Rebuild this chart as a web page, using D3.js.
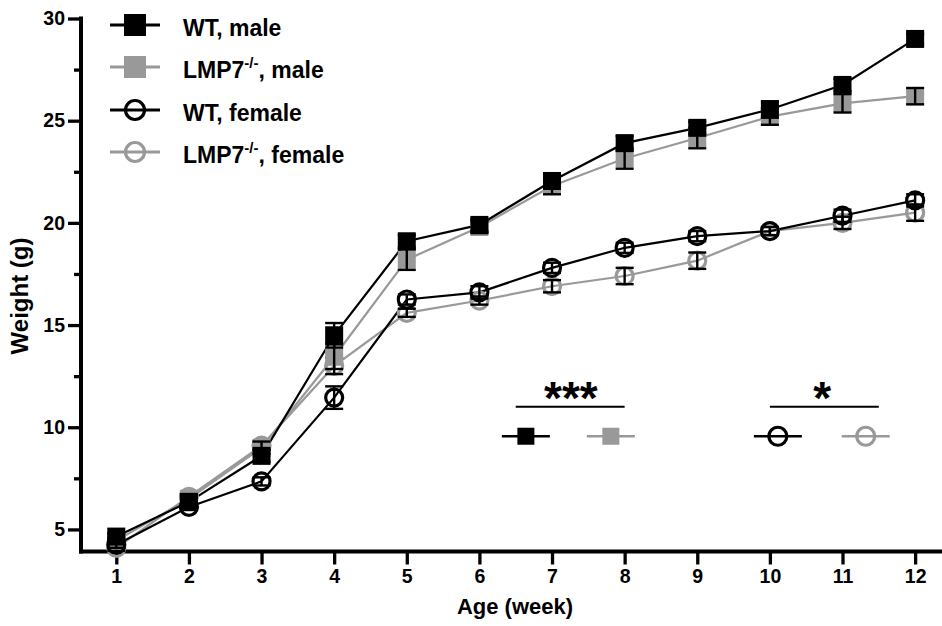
<!DOCTYPE html>
<html>
<head>
<meta charset="utf-8">
<script src="https://cdn.jsdelivr.net/npm/d3@7"></script>
<style>
  body { margin: 0; background: #fff; }
  svg text { font-family: "Liberation Sans", Arial, sans-serif; font-weight: bold; }
</style>
</head>
<body>
<svg id="chart" width="942" height="626"></svg>
<script>
// weeks and mean body weight (g) per group, with SEM
var weeks = [1, 2, 3, 4, 5, 6, 7, 8, 9, 10, 11, 12];
var wtMale = [4.65, 6.35, 8.6, 14.5, 19.1, 19.9, 22.05, 23.9, 24.65, 25.55, 26.75, 29.0];
var koMale = [4.45, 6.5, 9.0, 13.45, 18.2, 19.8, 21.8, 23.15, 24.15, 25.2, 25.85, 26.2];
var wtFemale = [4.25, 6.1, 7.35, 11.45, 16.25, 16.6, 17.8, 18.78, 19.35, 19.6, 20.35, 21.1];
var koFemale = [4.1, 6.6, 9.1, 13.0, 15.6, 16.2, 16.9, 17.4, 18.15, 19.6, 20.0, 20.5];

var wtMaleSem = [0.15, 0.2, 0.3, 0.6, 0.3, 0.3, 0.3, 0.35, 0.3, 0.4, 0.3, 0.25];
var koMaleSem = [0.15, 0.2, 0.3, 0.6, 0.5, 0.3, 0.4, 0.5, 0.5, 0.4, 0.45, 0.4];
var wtFemaleSem = [0.15, 0.15, 0.2, 0.55, 0.25, 0.3, 0.25, 0.25, 0.25, 0.2, 0.3, 0.3];
var koFemaleSem = [0.15, 0.15, 0.2, 0.4, 0.2, 0.2, 0.3, 0.4, 0.4, 0.2, 0.3, 0.4];

var yTicks = [5, 10, 15, 20, 25, 30];
var yMinorTicks = [7.5, 12.5, 17.5, 22.5, 27.5];

var gray = "#999999";

var series = [
    { name: "koFemale", values: koFemale, sem: koFemaleSem, color: gray, shape: "circle" },
    { name: "koMale", values: koMale, sem: koMaleSem, color: gray, shape: "square" },
    { name: "wtFemale", values: wtFemale, sem: wtFemaleSem, color: "#000", shape: "circle" },
    { name: "wtMale", values: wtMale, sem: wtMaleSem, color: "#000", shape: "square" }
];

var svg = d3.select("#chart");

var x = d3.scaleLinear().domain([0.514, 12.37]).range([81, 942]);
var y = d3.scaleLinear().domain([3.92, 30]).range([551.5, 18.5]);

// draw a marker at (cx, cy)
function marker(g, shape, color, cx, cy, size) {
    if (shape === "square") {
        g.append("rect")
            .attr("x", cx - size / 2).attr("y", cy - size / 2)
            .attr("width", size).attr("height", size)
            .attr("fill", color);
    } else {
        g.append("circle")
            .attr("cx", cx).attr("cy", cy)
            .attr("r", size / 2 - 1.5)
            .attr("fill", "none")
            .attr("stroke", color)
            .attr("stroke-width", 3.2);
    }
}

// axes
var yAxis = d3.axisLeft(y).tickValues(yTicks).tickSize(13).tickPadding(3);
var gy = svg.append("g").attr("transform", "translate(81,0)").call(yAxis);
gy.select(".domain").remove();
gy.selectAll(".tick line").attr("stroke", "#000").attr("stroke-width", 3.3);
gy.selectAll(".tick text").attr("font-size", 19.5).attr("fill", "#000");

svg.append("g").attr("transform", "translate(81,0)")
    .call(d3.axisLeft(y).tickValues(yMinorTicks).tickSize(7).tickFormat(""))
    .call(function (g) { g.select(".domain").remove(); })
    .selectAll(".tick line").attr("stroke", "#000").attr("stroke-width", 3.3);

var xAxis = d3.axisBottom(x).tickValues(weeks).tickSize(13).tickPadding(5);
var gx = svg.append("g").attr("transform", "translate(0,551.5)").call(xAxis);
gx.select(".domain").remove();
gx.selectAll(".tick line").attr("stroke", "#000").attr("stroke-width", 3.3);
gx.selectAll(".tick text").attr("font-size", 19.5).attr("fill", "#000");

svg.append("line").attr("x1", 81).attr("x2", 81).attr("y1", 16.5).attr("y2", 553.5)
    .attr("stroke", "#000").attr("stroke-width", 4);
svg.append("line").attr("x1", 79).attr("x2", 942).attr("y1", 551.5).attr("y2", 551.5)
    .attr("stroke", "#000").attr("stroke-width", 4);

svg.append("text").attr("x", 515).attr("y", 614)
    .attr("text-anchor", "middle").attr("font-size", 22).text("Age (week)");
svg.append("text").attr("transform", "translate(28,296) rotate(-90)")
    .attr("text-anchor", "middle").attr("font-size", 24).text("Weight (g)");

// lines
var line = d3.line()
    .x(function (d, i) { return x(weeks[i]); })
    .y(function (d) { return y(d); });

series.forEach(function (s) {
    svg.append("path").datum(s.values)
        .attr("d", line)
        .attr("fill", "none")
        .attr("stroke", s.color)
        .attr("stroke-width", 2.2);
});

// markers and error bars
series.forEach(function (s) {
    var g = svg.append("g");
    s.values.forEach(function (v, i) {
        var cx = x(weeks[i]);
        marker(g, s.shape, s.color, cx, y(v), s.shape === "square" ? 18 : 20);
        var lo = y(v - s.sem[i]), hi = y(v + s.sem[i]);
        g.append("line").attr("x1", cx).attr("x2", cx).attr("y1", lo).attr("y2", hi)
            .attr("stroke", "#000").attr("stroke-width", 2.4);
        [lo, hi].forEach(function (yy) {
            g.append("line").attr("x1", cx - 9).attr("x2", cx + 9).attr("y1", yy).attr("y2", yy)
                .attr("stroke", "#000").attr("stroke-width", 2.4);
        });
    });
});

// legend
var legendItems = [
    { label: "WT, male", sup: null, rest: null, color: "#000", shape: "square" },
    { label: "LMP7", sup: "-/-", rest: ", male", color: gray, shape: "square" },
    { label: "WT, female", sup: null, rest: null, color: "#000", shape: "circle" },
    { label: "LMP7", sup: "-/-", rest: ", female", color: gray, shape: "circle" }
];
var legendY = [25, 67, 110, 152];
var legend = svg.append("g");
legendItems.forEach(function (d, i) {
    var ly = legendY[i];
    legend.append("line").attr("x1", 110).attr("x2", 160).attr("y1", ly).attr("y2", ly)
        .attr("stroke", d.color).attr("stroke-width", 3);
    marker(legend, d.shape, d.color, 135, ly, 22);
    var t = legend.append("text").attr("x", 183).attr("y", ly + 11).attr("font-size", 23).attr("fill", "#000");
    t.append("tspan").text(d.label);
    if (d.sup) {
        t.append("tspan").attr("dy", -10).attr("font-size", 15).text(d.sup);
        t.append("tspan").attr("dy", 10).text(d.rest);
    }
});

// significance annotations
var sigGroups = [
    { stars: "***", from: 6.5, to: 8.0, textX: 7.26, marks: [6.64, 7.81], shape: "square" },
    { stars: "*", from: 10.0, to: 11.5, textX: 10.72, marks: [10.11, 11.32], shape: "circle" }
];
var sigLineY = 11;
var sigMarkY = 9.56;
sigGroups.forEach(function (d) {
    var g = svg.append("g");
    g.append("line").attr("x1", x(d.from)).attr("x2", x(d.to))
        .attr("y1", y(sigLineY)).attr("y2", y(sigLineY))
        .attr("stroke", "#000").attr("stroke-width", 2);
    g.append("text").attr("x", x(d.textX)).attr("y", y(sigLineY) + 7)
        .attr("text-anchor", "middle").attr("font-size", 46).text(d.stars);
    [["#000", d.marks[0]], [gray, d.marks[1]]].forEach(function (m) {
        var cx = x(m[1]), cy = y(sigMarkY);
        g.append("line").attr("x1", cx - 24).attr("x2", cx + 24).attr("y1", cy).attr("y2", cy)
            .attr("stroke", m[0]).attr("stroke-width", 2.5);
        marker(g, d.shape, m[0], cx, cy, d.shape === "square" ? 17 : 21);
    });
});
</script>
</body>
</html>
